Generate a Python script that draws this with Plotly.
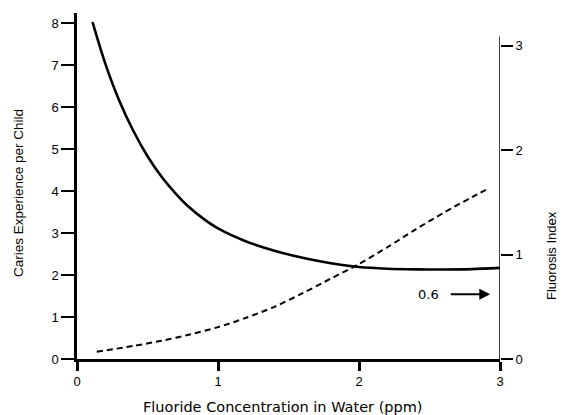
import plotly.graph_objects as go

# Data
conc_caries = [0.11, 0.2, 0.3, 0.4, 0.5, 0.6, 0.7, 0.8, 0.9, 1.0, 1.2, 1.4, 1.6, 1.8, 2.0, 2.2, 2.4, 2.6, 2.8, 3.0]
caries = [8.02, 7.04, 6.15, 5.43, 4.83, 4.34, 3.94, 3.60, 3.33, 3.11, 2.80, 2.58, 2.41, 2.28, 2.19, 2.15, 2.135, 2.13, 2.14, 2.17]

conc_fluorosis = [0.14, 0.4, 0.6, 0.8, 1.0, 1.2, 1.4, 1.6, 1.8, 2.0, 2.2, 2.4, 2.6, 2.8, 2.9]
fluorosis = [0.07, 0.125, 0.175, 0.235, 0.305, 0.395, 0.50, 0.63, 0.77, 0.91, 1.07, 1.24, 1.40, 1.55, 1.62]

x_ticks = [0, 1, 2, 3]
left_ticks = [0, 1, 2, 3, 4, 5, 6, 7, 8]
right_ticks = [0, 1, 2, 3]
marker_value = 0.6

FONT = "Liberation Sans, Arial, Helvetica, sans-serif"
WIDE = "DejaVu Sans, Verdana, sans-serif"

fig = go.Figure()
fig.add_trace(go.Scatter(x=conc_caries, y=caries, mode="lines",
                         line=dict(color="black", width=2.6, shape="spline", smoothing=0.8),
                         yaxis="y", showlegend=False, hoverinfo="skip"))
fig.add_trace(go.Scatter(x=conc_fluorosis, y=fluorosis, mode="lines",
                         line=dict(color="black", width=2, dash="6px,4px", shape="spline", smoothing=0.8),
                         yaxis="y2", showlegend=False, hoverinfo="skip"))

# The page body has an 8px margin, so the figure is sized/offset to compensate.
fig.update_layout(
    width=558, height=407,
    margin=dict(l=69, r=66, t=5, b=56),
    paper_bgcolor="white", plot_bgcolor="white",
    font=dict(family=FONT, size=12, color="black"),
    xaxis=dict(range=[0, 3], tickvals=x_ticks, ticks="outside", ticklen=9, tickwidth=2.5, tickcolor="black",
               showline=True, linewidth=2.5, linecolor="black", showgrid=False, zeroline=False,
               tickfont=dict(size=13), fixedrange=True),
    yaxis=dict(range=[0, 8.24], tickvals=left_ticks, ticks="outside", ticklen=13, tickwidth=2, tickcolor="black",
               showline=True, linewidth=2.5, linecolor="black", showgrid=False, zeroline=False,
               tickfont=dict(size=13), fixedrange=True),
    yaxis2=dict(range=[0, 3.314], tickvals=right_ticks, ticks="outside", ticklen=12, tickwidth=1.5, tickcolor="black",
                overlaying="y", side="right", showline=False, showgrid=False, zeroline=False,
                tickfont=dict(size=13), fixedrange=True),
    shapes=[
        dict(type="line", xref="x", yref="y2", x0=3, x1=3, y0=0, y1=3.09,
             line=dict(color="black", width=1.5)),
    ],
    annotations=[
        dict(text="Caries Experience per Child", xref="paper", yref="paper", x=-0.137, y=0.48,
             textangle=-90, showarrow=False, font=dict(size=13.5), xanchor="center", yanchor="middle"),
        dict(text="Fluorosis Index", xref="paper", yref="paper", x=1.12, y=0.30,
             textangle=-90, showarrow=False, font=dict(size=13), xanchor="center", yanchor="middle"),
        dict(text="Fluoride Concentration in Water (ppm)", xref="paper", yref="paper", x=0.487, y=-0.14,
             showarrow=False, font=dict(family=WIDE, size=14.5), xanchor="center", yanchor="middle"),
        dict(text=str(marker_value), xref="x", yref="y2", x=2.49, y=0.62, showarrow=False,
             font=dict(family=WIDE, size=13), xanchor="center", yanchor="middle"),
        dict(text="", xref="x", yref="y2", x=2.93, y=0.62, ax=2.64, ay=0.62, axref="x", ayref="y2",
             showarrow=True, arrowhead=2, arrowsize=1.2, arrowwidth=1.8, arrowcolor="black"),
    ],
)

fig.write_html("out.html")
